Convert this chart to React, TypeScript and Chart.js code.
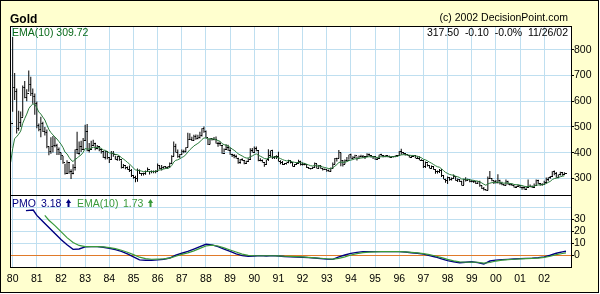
import React, { useEffect, useRef } from "react";
import { Chart, registerables } from "chart.js";
Chart.register(...registerables);

// ---- Data (monthly bars, first bar = Dec 1979) ----
const FIRST_YEAR = 1979;
const FIRST_MONTH = 11; // December (0-based)

const priceHigh = [
  524,
  850, 710, 650, 563, 560, 661, 679, 647, 720, 695, 650, 630,
  599, 513, 540, 520, 500, 490, 425, 460, 465, 460, 435, 420,
  400, 387, 357, 370, 363, 335, 355, 412, 481, 443, 446, 457,
  509, 511, 437, 446, 450, 438, 430, 425, 414, 405, 406, 404,
  383, 406, 406, 388, 387, 386, 370, 356, 347, 346, 350, 336,
  311, 310, 338, 334, 320, 322, 330, 342, 328, 330, 330, 331,
  358, 350, 352, 347, 347, 346, 362, 390, 443, 435, 412, 395,
  412, 411, 421, 477, 475, 462, 470, 471, 470, 481, 495, 502,
  486, 455, 456, 457, 461, 463, 442, 443, 430, 416, 433, 431,
  420, 396, 395, 392, 380, 375, 378, 370, 368, 378, 417, 418,
  424, 424, 407, 378, 373, 359, 372, 413, 408, 411, 387, 390,
  403, 370, 367, 360, 362, 372, 370, 362, 356, 362, 372, 368,
  362, 360, 355, 344, 340, 345, 362, 356, 352, 350, 340, 338,
  334, 334, 342, 362, 379, 380, 410, 400, 371, 373, 383, 392,
  396, 386, 392, 385, 389, 392, 391, 386, 398, 397, 390, 385,
  380, 381, 392, 396, 391, 390, 389, 389, 386, 386, 389, 389,
  406, 415, 401, 398, 395, 390, 389, 390, 388, 386, 386, 374,
  369, 365, 358, 350, 350, 348, 336, 330, 336, 336, 312, 298,
  307, 305, 303, 315, 305, 299, 297, 290, 298, 304, 298, 296,
  293, 291, 289, 289, 290, 273, 266, 258, 307, 328, 301, 292,
  293, 316, 294, 287, 278, 295, 290, 280, 279, 273, 270, 275,
  272, 268, 268, 265, 295, 276, 272, 280, 295, 294, 280, 281,
  290, 303, 304, 309, 327, 330, 325, 315, 326, 323, 324,
];

const priceLow = [
  418,
  559, 605, 474, 485, 500, 540, 612, 600, 637, 620, 590, 547,
  495, 483, 460, 480, 467, 417, 390, 396, 400, 421, 391, 391,
  371, 357, 315, 318, 318, 297, 316, 330, 395, 392, 402, 410,
  446, 405, 400, 412, 428, 409, 413, 405, 397, 379, 373, 374,
  360, 372, 384, 372, 368, 368, 338, 339, 335, 333, 325, 305,
  298, 285, 287, 317, 310, 311, 314, 325, 315, 320, 320, 320,
  327, 335, 330, 337, 337, 336, 340, 357, 385, 400, 380, 378,
  391, 398, 400, 420, 450, 445, 446, 450, 452, 455, 463, 477,
  458, 430, 432, 447, 448, 436, 423, 427, 396, 400, 410, 407,
  392, 383, 378, 377, 357, 357, 367, 355, 356, 365, 375, 400,
  400, 405, 366, 366, 362, 345, 352, 367, 381, 375, 375, 375,
  365, 355, 352, 353, 354, 359, 358, 346, 346, 354, 357, 350,
  350, 351, 340, 336, 334, 337, 340, 338, 338, 337, 330, 332,
  326, 326, 326, 336, 354, 365, 377, 347, 346, 355, 366, 372,
  377, 375, 379, 369, 375, 382, 379, 375, 385, 386, 381, 375,
  372, 371, 375, 388, 382, 382, 382, 381, 382, 381, 382, 383,
  387, 392, 393, 389, 389, 381, 381, 385, 378, 377, 370, 367,
  340, 340, 346, 338, 338, 333, 318, 319, 321, 305, 296, 283,
  278, 290, 291, 300, 290, 286, 286, 272, 274, 288, 290, 285,
  285, 282, 278, 278, 267, 258, 253, 252, 253, 297, 289, 278,
  280, 280, 276, 273, 270, 272, 276, 272, 270, 264, 264, 268,
  262, 255, 256, 254, 262, 265, 262, 265, 270, 278, 271, 271,
  277, 280, 289, 298, 306, 312, 302, 300, 311, 310, 313,
];

const priceClose = [
  512,
  653, 637, 494, 517, 535, 653, 614, 631, 666, 629, 619, 590,
  506, 489, 514, 482, 480, 422, 406, 425, 428, 427, 414, 400,
  387, 362, 320, 361, 325, 317, 342, 411, 397, 423, 414, 448,
  481, 409, 414, 429, 437, 416, 422, 414, 405, 382, 405, 381,
  373, 395, 394, 375, 384, 373, 344, 348, 342, 333, 329, 309,
  305, 298, 330, 320, 317, 317, 327, 333, 326, 325, 325, 327,
  350, 339, 344, 346, 343, 345, 357, 385, 423, 401, 383, 391,
  405, 405, 420, 452, 452, 447, 463, 454, 460, 468, 492, 484,
  459, 430, 456, 451, 451, 436, 437, 428, 397, 412, 420, 410,
  394, 387, 383, 378, 361, 373, 368, 358, 367, 375, 409, 401,
  415, 407, 368, 368, 363, 353, 372, 387, 408, 380, 383, 386,
  366, 362, 355, 358, 360, 368, 362, 347, 354, 358, 366, 353,
  354, 353, 341, 337, 337, 343, 357, 340, 349, 339, 334, 333,
  330, 327, 337, 355, 377, 378, 401, 371, 355, 369, 371, 391,
  379, 381, 389, 376, 386, 385, 384, 385, 394, 389, 383, 383,
  375, 376, 391, 389, 385, 387, 384, 382, 384, 383, 387, 387,
  405, 400, 396, 392, 390, 382, 385, 387, 379, 379, 371, 369,
  345, 363, 348, 340, 345, 334, 326, 325, 332, 311, 297, 290,
  303, 297, 301, 308, 293, 296, 288, 273, 294, 292, 294, 288,
  287, 287, 279, 286, 272, 262, 255, 254, 299, 299, 291, 288,
  283, 293, 278, 274, 272, 288, 277, 277, 272, 265, 269, 272,
  265, 266, 258, 264, 268, 270, 265, 273, 293, 280, 275, 277,
  282, 297, 302, 308, 326, 318, 304, 313, 323, 316, 317.5,
];

const priceEma10 = [
  362,
  415, 455, 462, 472, 484, 514, 533, 550, 571, 582, 589, 589,
  574, 558, 550, 538, 527, 508, 490, 478, 469, 461, 453, 443,
  433, 420, 402, 395, 382, 371, 365, 374, 378, 386, 391, 401,
  416, 414, 414, 417, 421, 420, 420, 419, 417, 410, 409, 404,
  399, 398, 397, 393, 392, 388, 380, 375, 369, 362, 356, 348,
  340, 332, 332, 330, 328, 326, 326, 327, 327, 327, 326, 327,
  331, 332, 334, 336, 338, 339, 342, 350, 363, 370, 372, 376,
  381, 385, 392, 402, 411, 418, 426, 431, 436, 442, 451, 457,
  457, 453, 453, 453, 453, 450, 447, 444, 435, 431, 429, 426,
  420, 414, 409, 403, 395, 391, 387, 382, 379, 379, 384, 387,
  392, 395, 390, 386, 382, 377, 376, 378, 383, 383, 383, 383,
  380, 377, 373, 370, 368, 368, 367, 364, 362, 361, 362, 361,
  359, 358, 355, 352, 349, 348, 350, 348, 348, 347, 344, 342,
  340, 338, 338, 341, 347, 353, 362, 363, 362, 363, 365, 369,
  371, 373, 376, 376, 378, 379, 380, 381, 383, 384, 384, 384,
  382, 381, 383, 384, 384, 385, 385, 384, 384, 384, 385, 385,
  389, 391, 392, 392, 391, 390, 389, 389, 387, 386, 383, 380,
  374, 372, 368, 363, 359, 354, 349, 345, 343, 337, 330, 323,
  319, 315, 313, 312, 308, 306, 303, 297, 297, 296, 296, 294,
  293, 292, 290, 289, 286, 282, 277, 273, 278, 281, 283, 284,
  284, 285, 284, 282, 281, 282, 281, 280, 279, 276, 275, 275,
  273, 272, 269, 268, 268, 269, 268, 269, 273, 274, 275, 275,
  276, 280, 284, 288, 295, 299, 300, 303, 306, 308, 309.72,
];

// PMO and its EMA(10), read at quarterly points: [decimal year, value]
const pmoSeries: [number, number][] = [
  [1980.55, 37], [1980.85, 37.5], [1981.0, 33], [1981.25, 28], [1981.5, 23], [1981.75, 18],
  [1982.0, 13], [1982.25, 8.5], [1982.5, 4.7], [1982.75, 5], [1983.0, 6.8], [1983.25, 7],
  [1983.5, 7], [1983.75, 6.5], [1984.0, 5.6], [1984.25, 4.5], [1984.5, 3], [1984.75, 1],
  [1985.0, -1.5], [1985.25, -4], [1985.5, -4.3], [1985.75, -4.3], [1986.0, -4], [1986.25, -3.5],
  [1986.5, -2.5], [1986.75, 0], [1987.0, 1.5], [1987.25, 3], [1987.5, 5], [1987.75, 7],
  [1988.0, 9], [1988.25, 8.5], [1988.5, 7], [1988.75, 5], [1989.0, 3], [1989.25, 1],
  [1989.5, -0.5], [1989.75, -1], [1990.0, -0.8], [1990.25, -0.5], [1990.5, -0.8], [1990.75, -0.5],
  [1991.0, -0.8], [1991.25, -1.2], [1991.5, -1.4], [1991.75, -1.6], [1992.0, -1.8], [1992.25, -2.2],
  [1992.5, -2.5], [1992.75, -3], [1993.0, -3.4], [1993.25, -3.6], [1993.5, -1.5], [1993.75, 0],
  [1994.0, 1.4], [1994.25, 2.2], [1994.5, 2.8], [1994.75, 2.8], [1995.0, 2.8], [1995.25, 2.8],
  [1995.5, 2.8], [1995.75, 2.8], [1996.0, 2.8], [1996.25, 2.5], [1996.5, 1.9], [1996.75, 1.5],
  [1997.0, 0.8], [1997.25, -0.5], [1997.5, -1.6], [1997.75, -3.2], [1998.0, -4.7], [1998.25, -5.6],
  [1998.5, -6.4], [1998.75, -6], [1999.0, -5.6], [1999.25, -6.3], [1999.5, -7.5], [1999.75, -5],
  [2000.0, -4.2], [2000.25, -3.8], [2000.5, -3.6], [2000.75, -3.3], [2001.0, -3], [2001.25, -2.8],
  [2001.5, -2.6], [2001.75, -2.2], [2002.0, -1.5], [2002.25, -0.2], [2002.5, 1.5], [2002.75, 2.6],
  [2002.9, 3.18],
];

const pmoEmaSeries: [number, number][] = [
  [1981.33, 33], [1981.5, 29], [1981.75, 24.5], [1982.0, 19.5], [1982.25, 14.5], [1982.5, 10.5],
  [1982.75, 8], [1983.0, 7], [1983.25, 7], [1983.5, 7], [1983.75, 6.8], [1984.0, 6.2],
  [1984.25, 5.3], [1984.5, 4], [1984.75, 2.3], [1985.0, 0.3], [1985.25, -1.8], [1985.5, -3],
  [1985.75, -3.5], [1986.0, -3.4], [1986.25, -3.2], [1986.5, -2.6], [1986.75, -1], [1987.0, 0.5],
  [1987.25, 1.8], [1987.5, 3.5], [1987.75, 5.5], [1988.0, 7.5], [1988.25, 8.3], [1988.5, 7.5],
  [1988.75, 6], [1989.0, 4.2], [1989.25, 2.5], [1989.5, 0.8], [1989.75, -0.3], [1990.0, -0.6],
  [1990.25, -0.6], [1990.5, -0.6], [1990.75, -0.6], [1991.0, -0.7], [1991.25, -1], [1991.5, -1.2],
  [1991.75, -1.4], [1992.0, -1.6], [1992.25, -2], [1992.5, -2.3], [1992.75, -2.7], [1993.0, -3.1],
  [1993.25, -3.4], [1993.5, -2.8], [1993.75, -1.5], [1994.0, 0], [1994.25, 1.2], [1994.5, 2],
  [1994.75, 2.5], [1995.0, 2.7], [1995.25, 2.8], [1995.5, 2.8], [1995.75, 2.8], [1996.0, 2.8],
  [1996.25, 2.6], [1996.5, 2.2], [1996.75, 1.8], [1997.0, 1.2], [1997.25, 0.3], [1997.5, -0.8],
  [1997.75, -2.2], [1998.0, -3.6], [1998.25, -4.8], [1998.5, -5.7], [1998.75, -6], [1999.0, -5.9],
  [1999.25, -6], [1999.5, -6.8], [1999.75, -6.2], [2000.0, -5], [2000.25, -4.2], [2000.5, -3.8],
  [2000.75, -3.5], [2001.0, -3.2], [2001.25, -3], [2001.5, -2.8], [2001.75, -2.5], [2002.0, -2],
  [2002.25, -1], [2002.5, 0.3], [2002.75, 1.3], [2002.9, 1.73],
];

const yearTicks = [
  1980, 1981, 1982, 1983, 1984, 1985, 1986, 1987, 1988, 1989, 1990, 1991,
  1992, 1993, 1994, 1995, 1996, 1997, 1998, 1999, 2000, 2001, 2002,
];
const yearLabels = [
  "80", "81", "82", "83", "84", "85", "86", "87", "88", "89", "90", "91",
  "92", "93", "94", "95", "96", "97", "98", "99", "00", "01", "02",
];
const priceTicks = [300, 400, 500, 600, 700, 800];
const pmoGridTicks = [0, 10, 20, 30, 40];
const pmoLabelTicks = [0, 10, 20, 30];

const titleText = "Gold";
const copyrightText = "(c) 2002 DecisionPoint.com";
const emaLabel = "EMA(10) 309.72";
const quoteText = "317.50  -0.10  -0.0%  11/26/02";
const pmoLabel = "PMO";
const pmoValueLabel = "3.18";
const pmoEmaLabel = "EMA(10)";
const pmoEmaValueLabel = "1.73";

// ---- Styles ----
const BG = "#FFFFCF";
const GRID = "#BFDFF0";
const ZERO = "#E07A2A";
const EMA_COLOR = "#2A7A3A";
const EMA_TEXT = "#0A6A1A";
const PMO_COLOR = "#000080";
const PMO_EMA_COLOR = "#3A9A3A";
const FONT = '"Liberation Sans", Arial, sans-serif';

function monthToYear(i: number) {
  return FIRST_YEAR + (FIRST_MONTH + i) / 12;
}

function drawArrow(ctx: CanvasRenderingContext2D, cx: number, top: number, color: string) {
  ctx.fillStyle = color;
  ctx.beginPath();
  ctx.moveTo(cx, top);
  ctx.lineTo(cx + 2.6, top + 4);
  ctx.lineTo(cx - 2.6, top + 4);
  ctx.closePath();
  ctx.fill();
  ctx.fillRect(cx - 1, top + 4, 2, 4);
}

export default function App() {
  const ref = useRef<HTMLCanvasElement | null>(null);

  useEffect(() => {
    const canvas = ref.current;
    if (!canvas) return;

    const tick = document.createElement("canvas");
    tick.width = 5;
    tick.height = 1;
    const tctx = tick.getContext("2d")!;
    tctx.fillStyle = "#000";
    tctx.fillRect(3, 0, 2, 1);

    const bars = priceHigh.map((h, i) => ({ x: monthToYear(i), y: [priceLow[i], h] }));
    const closes = priceClose.map((c, i) => ({ x: monthToYear(i), y: c }));
    const ema = priceEma10.map((v, i) => ({ x: monthToYear(i), y: v }));
    const pmo = pmoSeries.map(([x, y]) => ({ x, y }));
    const pmoEma = pmoEmaSeries.map(([x, y]) => ({ x, y }));

    const framePlugin = {
      id: "frame",
      beforeDraw(chart: any) {
        const { ctx, chartArea } = chart;
        ctx.save();
        ctx.fillStyle = "#FFFFFF";
        ctx.fillRect(0, 0, chart.width, chart.height);
        ctx.fillStyle = BG;
        ctx.fillRect(0, 0, 599, 293);
        ctx.fillStyle = "#FFFFFF";
        ctx.fillRect(chartArea.left, chartArea.top, chartArea.right - chartArea.left, chartArea.bottom - chartArea.top);
        ctx.restore();
      },
      afterDraw(chart: any) {
        const { ctx, chartArea } = chart;
        const yP = chart.scales.y;
        const yM = chart.scales.y2;
        ctx.save();
        ctx.strokeStyle = "#000";
        ctx.lineWidth = 1;
        const L = Math.round(chartArea.left) + 0.5;
        const R = Math.round(chartArea.right) - 0.5;
        ctx.strokeRect(L, Math.round(yP.top) + 0.5, R - L, Math.round(yP.bottom) - Math.round(yP.top));
        ctx.strokeRect(L, Math.round(yM.top) + 0.5, R - L, Math.round(yM.bottom) - Math.round(yM.top) - 1);
        // outer frame
        ctx.strokeRect(0.5, 0.5, 598, 292);

        ctx.textBaseline = "alphabetic";
        ctx.fillStyle = "#000";
        ctx.font = `bold 12px ${FONT}`;
        ctx.textAlign = "left";
        ctx.fillText(titleText, 10, 23);
        ctx.font = `10.5px ${FONT}`;
        ctx.textAlign = "right";
        ctx.fillText(copyrightText, 568, 21);
        ctx.fillText(quoteText, 568, 36);
        ctx.textAlign = "left";
        ctx.fillStyle = EMA_TEXT;
        ctx.fillText(emaLabel, 12, 36);

        const by = yM.top + 12;
        ctx.fillStyle = PMO_COLOR;
        ctx.fillText(pmoLabel, 12, by);
        ctx.fillText(pmoValueLabel, 41, by);
        drawArrow(ctx, 68.5, by - 8, PMO_COLOR);
        ctx.fillStyle = PMO_EMA_COLOR;
        ctx.fillText(pmoEmaLabel, 77, by);
        ctx.fillText(pmoEmaValueLabel, 123, by);
        drawArrow(ctx, 150.5, by - 8, PMO_EMA_COLOR);
        ctx.restore();
      },
    };

    const tickFont = { family: FONT, size: 10.5 };

    const chart = new Chart(canvas, {
      type: "line",
      data: {
        datasets: [
          {
            type: "line",
            data: ema,
            yAxisID: "y",
            borderColor: EMA_COLOR,
            borderWidth: 1,
            pointRadius: 0,
            tension: 0,
          },
          {
            type: "line",
            data: closes,
            yAxisID: "y",
            showLine: false,
            pointStyle: tick as any,
            pointRadius: 2,
          },
          {
            type: "bar",
            data: bars as any,
            yAxisID: "y",
            backgroundColor: "#000",
            barThickness: 1,
            inflateAmount: 0,
            grouped: false,
          } as any,
          {
            type: "line",
            data: pmoEma,
            yAxisID: "y2",
            borderColor: PMO_EMA_COLOR,
            borderWidth: 1.2,
            pointRadius: 0,
          },
          {
            type: "line",
            data: pmo,
            yAxisID: "y2",
            borderColor: PMO_COLOR,
            borderWidth: 1.4,
            pointRadius: 0,
          },
        ],
      },
      options: {
        animation: false,
        responsive: false,
        devicePixelRatio: 1,
        parsing: true,
        normalized: true,
        layout: { padding: { top: 26, left: 10, right: 0, bottom: 0 } },
        plugins: {
          legend: { display: false },
          tooltip: { enabled: false },
          title: { display: false },
        },
        events: [],
        scales: {
          x: {
            type: "linear",
            position: "bottom",
            min: 1979.89,
            max: 2003.15,
            offset: false,
            afterBuildTicks: (s: any) => {
              s.ticks = yearTicks.map((v) => ({ value: v }));
            },
            afterFit: (s: any) => {
              s.height = 26;
            },
            ticks: {
              autoSkip: false,
              maxRotation: 0,
              minRotation: 0,
              padding: 5,
              color: "#000",
              font: tickFont,
              callback: (_v: any, i: number) => yearLabels[i],
            },
            grid: { color: GRID, drawTicks: false, offset: false, lineWidth: 1 },
            border: { display: false },
          },
          y: {
            type: "linear",
            position: "right",
            stack: "panels",
            stackWeight: 169,
            min: 235,
            max: 893,
            afterBuildTicks: (s: any) => {
              s.ticks = priceTicks.map((v) => ({ value: v }));
            },
            afterFit: (s: any) => {
              s.width = 28;
            },
            ticks: { autoSkip: false, padding: 0, color: "#000", font: tickFont, callback: (v: any) => String(v) },
            grid: { color: GRID, tickLength: 2, tickColor: "#000", lineWidth: 1 },
            border: { display: false },
          },
          y2: {
            type: "linear",
            position: "right",
            stack: "panels",
            stackWeight: 73,
            min: -10.8,
            max: 50,
            afterBuildTicks: (s: any) => {
              s.ticks = pmoGridTicks.map((v) => ({ value: v }));
            },
            afterFit: (s: any) => {
              s.width = 28;
            },
            ticks: {
              autoSkip: false,
              padding: 0,
              color: "#000",
              font: tickFont,
              callback: (v: any) => (pmoLabelTicks.includes(v) ? String(v) : ""),
            },
            grid: {
              color: (c: any) => (c.tick && c.tick.value === 0 ? ZERO : GRID),
              tickLength: 2,
              tickColor: (c: any) => (c.tick && pmoLabelTicks.includes(c.tick.value) ? "#000" : "rgba(0,0,0,0)"),
              lineWidth: 1,
            },
            border: { display: false },
          },
        },
      } as any,
      plugins: [framePlugin],
    });

    return () => chart.destroy();
  }, []);

  return (
    <div style={{ position: "fixed", left: 0, top: 0, width: 600, height: 294 }}>
      <canvas ref={ref} width={600} height={294} style={{ width: 600, height: 294, display: "block" }} />
    </div>
  );
}
